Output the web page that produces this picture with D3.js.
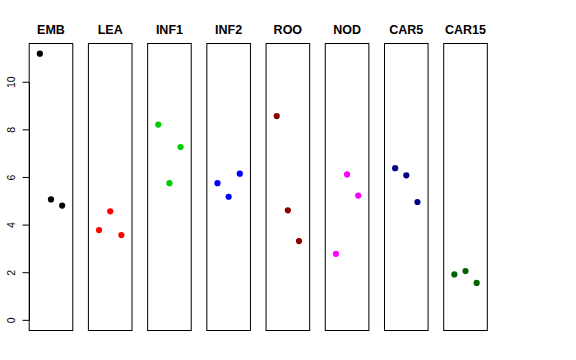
<!DOCTYPE html>
<html><head><meta charset="utf-8">
<script src="https://cdn.jsdelivr.net/npm/d3@7"></script>
<style>body{margin:0;background:#fff}svg{display:block}</style>
</head><body>
<svg id="c" width="576" height="360"></svg>
<script>
const categories = ["EMB","LEA","INF1","INF2","ROO","NOD","CAR5","CAR15"];
const colors = ["#000000","#FF0000","#00CD00","#0000FF","#8B0000","#FF00FF","#000080","#006400"];
const values = [
  [11.2, 5.08, 4.82],
  [3.79, 4.58, 3.58],
  [8.22, 5.76, 7.28],
  [5.76, 5.19, 6.16],
  [8.58, 4.62, 3.33],
  [2.79, 6.13, 5.24],
  [6.39, 6.09, 4.97],
  [1.93, 2.07, 1.57]
];
const yTicks = [0, 2, 4, 6, 8, 10];

(function () {
const svg = d3.select("#c");
const plotTop = 43, plotBottom = 331;
const ymax = 11.2;
const ext = ymax * 0.04;
const y = d3.scaleLinear().domain([-ext, ymax + ext]).range([plotBottom, plotTop]);
const band = d3.scaleBand().domain(categories).range([28.7, 487.8]).paddingInner(0.247).paddingOuter(0);
const bw = band.bandwidth();
const x = d3.scaleLinear().domain([0, 4]).range([0, bw]);

categories.forEach((cat, i) => {
  const g = svg.append("g").attr("transform", `translate(${band(cat)},0)`);
  g.append("rect").attr("x", 0.5).attr("y", plotTop + 0.5).attr("width", bw - 1).attr("height", plotBottom - plotTop - 1)
    .attr("fill", "none").attr("stroke", "#000").attr("stroke-width", 1);
  g.selectAll("circle").data(values[i]).enter().append("circle")
    .attr("cx", (d, j) => x(j + 1)).attr("cy", d => y(d)).attr("r", 3.1).attr("fill", colors[i]);
  svg.append("text").attr("x", band(cat) + bw / 2).attr("y", 34)
    .attr("text-anchor", "middle").attr("font-family", "Liberation Sans, Arial, sans-serif")
    .attr("font-weight", "bold").attr("font-size", 12.5).text(cat);
});

const ax = svg.append("g").attr("transform", `translate(${Math.round(band(categories[0])) + 0.5},0)`);
ax.append("line").attr("x1", 0).attr("x2", 0).attr("y1", y(0)).attr("y2", y(10)).attr("stroke", "#000");
ax.selectAll("line.t").data(yTicks).enter().append("line").attr("class", "t")
  .attr("x1", -7).attr("x2", 0).attr("y1", d => y(d)).attr("y2", d => y(d)).attr("stroke", "#000");
ax.selectAll("text").data(yTicks).enter().append("text")
  .attr("transform", d => `translate(-15,${y(d)}) rotate(-90)`)
  .attr("text-anchor", "middle").attr("font-family", "Liberation Sans, Arial, sans-serif")
  .attr("font-size", 10.5).text(d => d);
})();
</script>
</body></html>
